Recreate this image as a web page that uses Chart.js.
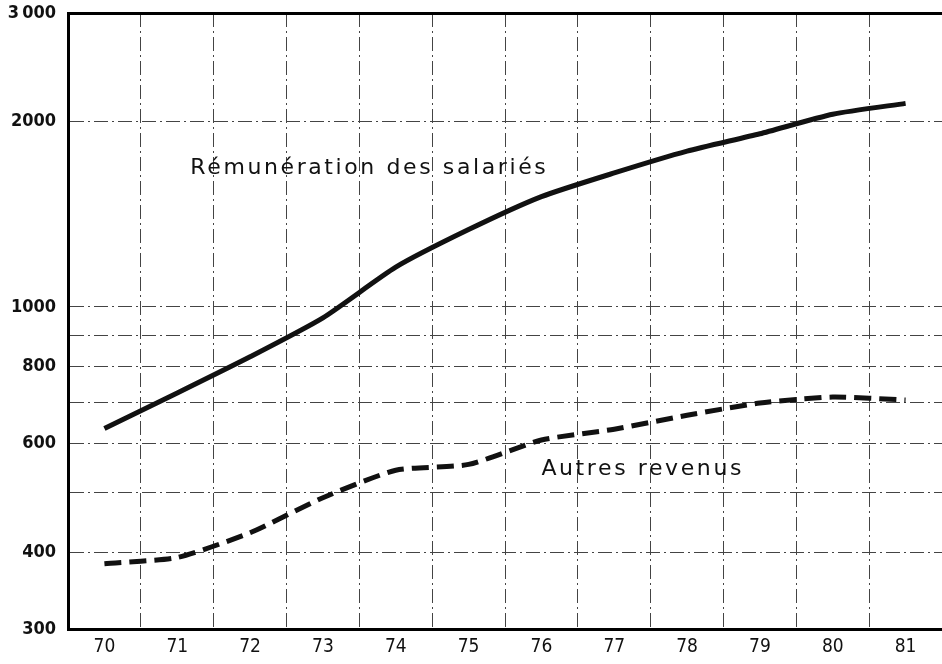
<!DOCTYPE html>
<html>
<head>
<meta charset="utf-8">
<script src="https://cdn.jsdelivr.net/npm/chart.js@4.4.0/dist/chart.umd.min.js"></script>
<style>
    html, body { margin: 0; padding: 0; background: #fff; }
    #conteneur { width: 942px; height: 664px; position: relative; }
</style>
</head>
<body>
<div id="conteneur"><canvas id="graphRevenus"></canvas></div>
<script>
// Données (échelle logarithmique)
const annees = ['70', '71', '72', '73', '74', '75', '76', '77', '78', '79', '80', '81'];
const remuneration = [635, 725, 830, 960, 1160, 1335, 1510, 1650, 1790, 1910, 2055, 2140];
const autresRevenus = [383, 392, 430, 490, 543, 555, 608, 633, 667, 698, 714, 706];

// Graduations de l'axe vertical
const graduationsY = [300, 400, 500, 600, 700, 800, 900, 1000, 2000, 3000];
const etiquettesY = { 300: '300', 400: '400', 600: '600', 800: '800', 1000: '1000', 2000: '2000', 3000: '3\u2009000' };

// Textes posés sur le graphique
const textes = ['Rémunération des salariés', 'Autres revenus'];
const textesX = [1.18, 6.0];
const textesY = [1680, 545];

const policeAxes = "'DejaVu Sans Condensed', 'Liberation Sans Narrow', sans-serif";

// Plugin pour écrire les noms des courbes
const pluginTextes = {
    id: 'textesCourbes',
    afterDatasetsDraw(chart) {
        const ctx = chart.ctx;
        const sx = chart.scales.x;
        const sy = chart.scales.y;
        ctx.save();
        ctx.font = "22px 'DejaVu Sans', sans-serif";
        ctx.fillStyle = '#111';
        ctx.textAlign = 'left';
        ctx.textBaseline = 'middle';
        ctx.letterSpacing = '2.6px';
        textes.forEach((t, i) => {
            const x = sx.getPixelForValue(0) + textesX[i] * (sx.getPixelForValue(1) - sx.getPixelForValue(0));
            ctx.fillText(t, x, sy.getPixelForValue(textesY[i]));
        });
        ctx.restore();
    }
};

const ctx = document.getElementById('graphRevenus').getContext('2d');

new Chart(ctx, {
    type: 'line',
    data: {
        labels: annees,
        datasets: [{
            label: 'Rémunération des salariés',
            data: remuneration,
            borderColor: '#111',
            borderWidth: 5,
            pointRadius: 0,
            tension: 0.2,
            fill: false
        }, {
            label: 'Autres revenus',
            data: autresRevenus,
            borderColor: '#111',
            borderWidth: 5,
            borderDash: [17, 8],
            pointRadius: 0,
            tension: 0.2,
            fill: false
        }]
    },
    options: {
        responsive: true,
        maintainAspectRatio: false,
        animation: false,
        layout: {
            padding: { top: 13, right: 0, left: 0, bottom: 0 }
        },
        plugins: {
            legend: { display: false },
            tooltip: { enabled: false }
        },
        scales: {
            x: {
                type: 'category',
                offset: true,
                grid: {
                    offset: true,
                    color: '#444',
                    lineWidth: 1,
                    drawTicks: false
                },
                border: { display: true, color: '#000', width: 3, dash: [14, 4, 2, 4] },
                ticks: {
                    color: '#111',
                    padding: 7,
                    maxRotation: 0,
                    font: { family: policeAxes, size: 19 }
                },
                afterFit: function (scale) {
                    scale.height = 35;
                    scale.paddingLeft = 0;
                    scale.paddingRight = 0;
                }
            },
            xHaut: {
                type: 'category',
                position: 'top',
                grid: { display: false },
                ticks: { display: false },
                border: { display: true, color: '#000', width: 3 },
                afterFit: function (scale) {
                    scale.height = 0;
                    scale.paddingLeft = 0;
                    scale.paddingRight = 0;
                }
            },
            y: {
                type: 'logarithmic',
                min: 300,
                max: 3000,
                afterBuildTicks: function (scale) {
                    scale.ticks = graduationsY.map(v => ({ value: v }));
                },
                grid: {
                    color: '#444',
                    lineWidth: 1,
                    drawTicks: false
                },
                border: { display: true, color: '#000', width: 3, dash: [14, 4, 2, 4] },
                ticks: {
                    color: '#111',
                    padding: 12,
                    autoSkip: false,
                    font: { family: policeAxes, size: 18, weight: 'bold' },
                    callback: function (value) {
                        return etiquettesY[value] || '';
                    }
                },
                afterFit: function (scale) {
                    scale.width = 68;
                    scale.paddingTop = 0;
                    scale.paddingBottom = 0;
                }
            }
        }
    },
    plugins: [pluginTextes]
});
</script>
</body>
</html>
